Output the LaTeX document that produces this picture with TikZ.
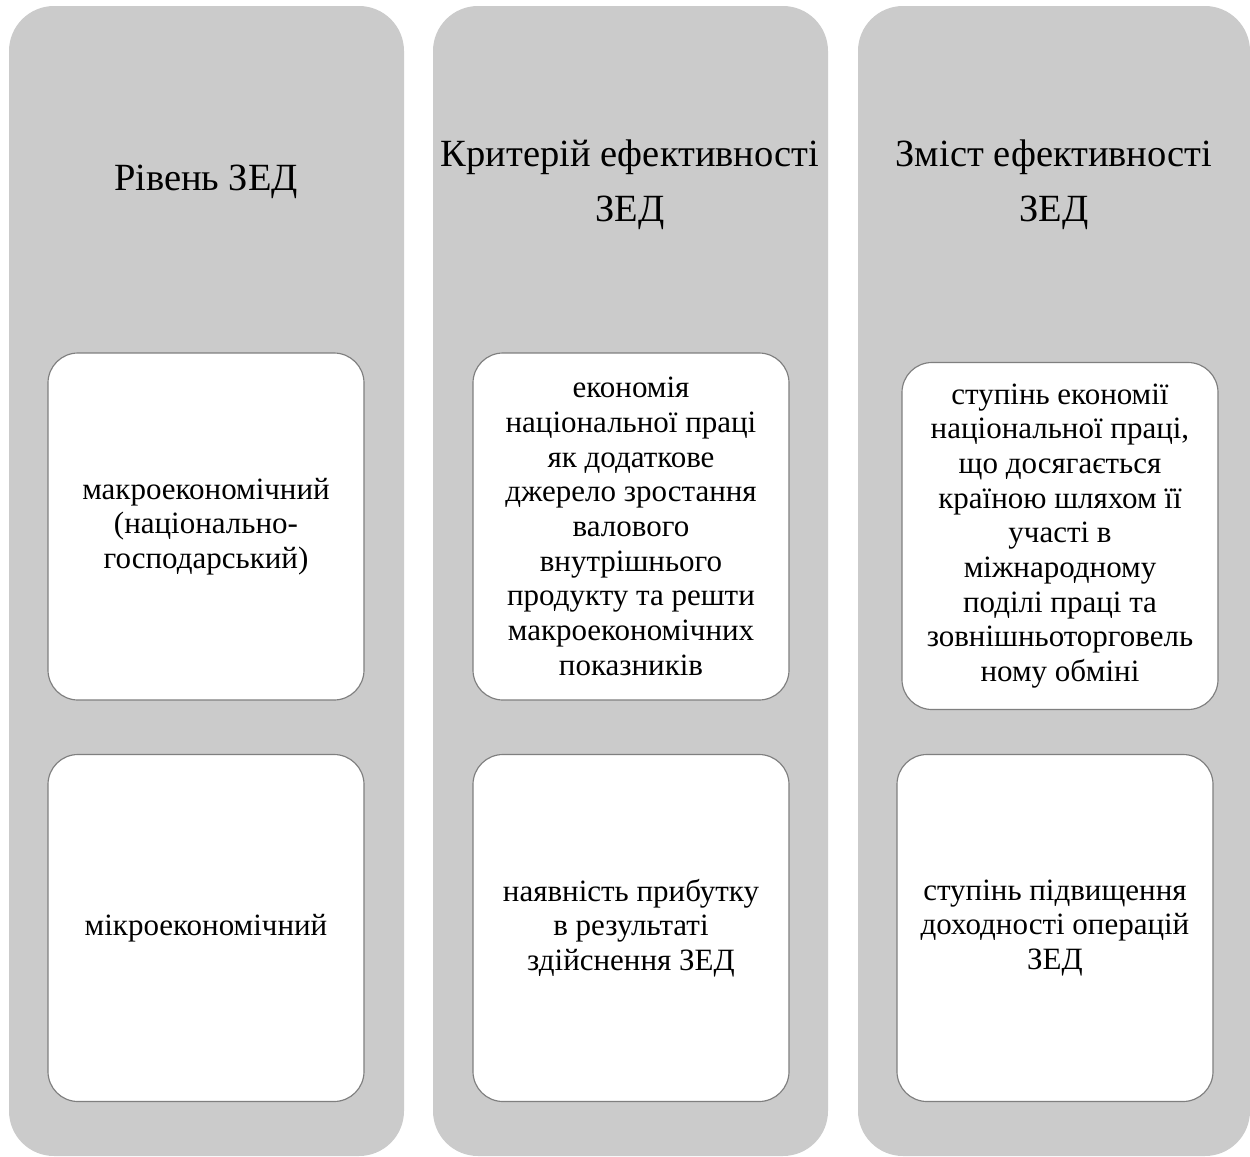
\documentclass[tikz,border=0pt]{standalone}
\usepackage{fontspec}
\setmainfont{Liberation Serif}
\definecolor{colgray}{HTML}{CBCBCB}
\definecolor{edgegray}{HTML}{7F7F7F}
\begin{document}
\begin{tikzpicture}[x=0.6pt,y=-0.6pt,
 column/.style={rectangle, rounded corners=27pt, fill=colgray, minimum height=690pt, inner sep=0pt},
 cell/.style={rectangle, rounded corners=18pt, fill=white, draw=edgegray, line width=0.7pt, minimum width=189.6pt, minimum height=208.2pt, inner sep=0pt, align=center, font=\fontsize{18.6}{20.8}\selectfont},
 head/.style={align=center, font=\fontsize{23.1}{33}\selectfont}]
\useasboundingbox (0,0) rectangle (1250,1156);
\node[column, minimum width=237pt] (col1) at (206.5,581) {};
\node[column, minimum width=237pt] (col2) at (630.5,581) {};
\node[column, minimum width=235.2pt] (col3) at (1054,581) {};
\node[head] (h1) at (206,182) {Рівень ЗЕД};
\node[head] (h2) at (630,185) {Критерій ефективності\\ЗЕД};
\node[head] (h3) at (1054,185) {Зміст ефективності\\ЗЕД};
\node[cell] (a1) at (206,526.5) {макроекономічний\\(національно-\\господарський)};
\node[cell] (a2) at (206,928) {мікроекономічний};
\node[cell] (b1) at (631,526.5) {економія\\національної праці\\як додаткове\\джерело зростання\\валового\\внутрішнього\\продукту та решти\\макроекономічних\\показників};
\node[cell] (b2) at (631,928) {наявність прибутку\\в результаті\\здійснення ЗЕД};
\node[cell] (c1) at (1060,536) {ступінь економії\\національної праці,\\що досягається\\країною шляхом її\\участі в\\міжнародному\\поділі праці та\\зовнішньоторговель\\ному обміні};
\node[cell] (c2) at (1055,928) {ступінь підвищення\\доходності операцій\\ЗЕД};
\end{tikzpicture}
\end{document}
